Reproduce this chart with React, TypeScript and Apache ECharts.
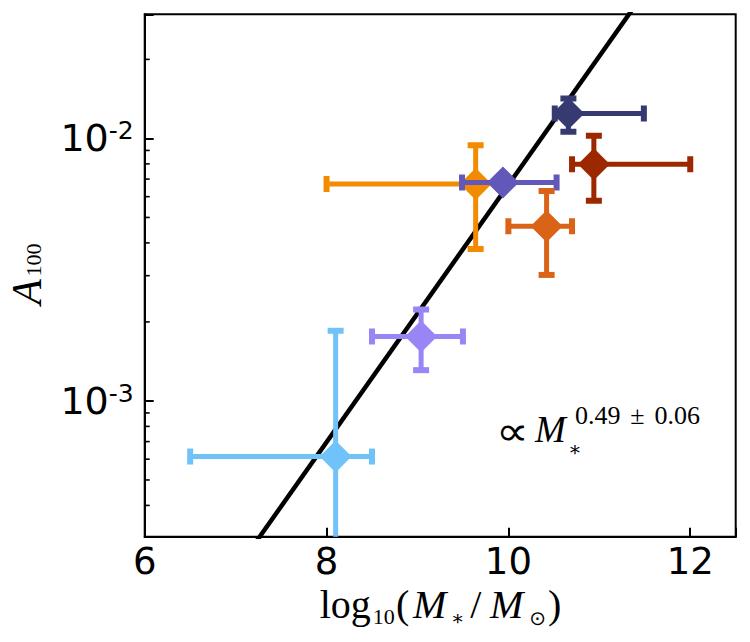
import React, { useEffect, useRef } from "react";
import * as echarts from "echarts";

// ---- data ----
const massX = [8.1, 9.04, 9.64, 9.94, 10.42, 10.66, 10.94];
const massLo = [6.5, 8.5, 8.0, 9.49, 10.0, 10.51, 10.7];
const massHi = [8.5, 9.5, 9.7, 10.53, 10.7, 11.49, 12.0];
const ampY = [6.14e-4, 1.76e-3, 6.7e-3, 6.8e-3, 4.63e-3, 1.245e-2, 7.98e-3];
const ampLo = [1.0e-4, 1.31e-3, 3.79e-3, 6.8e-3, 3.02e-3, 1.06e-2, 5.79e-3];
const ampHi = [1.85e-3, 2.23e-3, 9.42e-3, 6.8e-3, 6.3e-3, 1.42e-2, 1.023e-2];
const pointColors = ["#70c3f8", "#9985f5", "#f38b00", "#6158b9", "#d96418", "#363a70", "#9c2800"];

const fitX = [7.0, 11.6];
const fitY = [2.254e-4, 4.046e-2];

const xMin = 6;
const xMax = 12.5;
const xInterval = 2;
const yMin = 0.000304;
const yMax = 0.0297;
const minorTicksY = [4e-4, 5e-4, 6e-4, 7e-4, 8e-4, 9e-4, 2e-3, 3e-3, 4e-3, 5e-3, 6e-3, 7e-3, 8e-3, 9e-3, 2e-2];

const annotationExponent = ["0.49", "±", "0.06"];

export default function App() {
  const ref = useRef<HTMLDivElement>(null);

  useEffect(() => {
    const chart = echarts.init(ref.current as HTMLDivElement, null, { renderer: "svg" });
    const serif = "'Liberation Serif', 'DejaVu Serif', serif";
    const sans = "'DejaVu Sans', sans-serif";

    const errData = massX.map((x, i) => ({
      value: [x, ampY[i], massLo[i], massHi[i], ampLo[i], ampHi[i]],
      itemStyle: { color: pointColors[i] },
    }));

    const option: any = {
      animation: false,
      backgroundColor: "#fff",
      grid: {
        left: 144.7,
        top: 14.3,
        width: 591,
        height: 522.4,
        show: true,
        borderColor: "#000",
        borderWidth: 2,
        backgroundColor: "transparent",
        containLabel: false,
        outerBoundsMode: "none",
      },
      xAxis: {
        type: "value",
        min: xMin,
        max: xMax,
        interval: xInterval,
        axisLine: { show: true, lineStyle: { color: "#000", width: 2 } },
        axisTick: { show: true, inside: true, length: 9, lineStyle: { color: "#000", width: 2 } },
        splitLine: { show: false },
        axisLabel: {
          margin: 6,
          color: "#000",
          fontFamily: sans,
          fontSize: 37,
          formatter: (v: number) => (Number.isInteger(v) ? String(v) : ""),
        },
        name: "{lg|log}{sb|10}{op|(}{m1|M}{st|∗}{sl|/}{m2|M}{sun|⊙}{cp|)}",
        nameLocation: "middle",
        nameGap: 45,
        nameTextStyle: {
          color: "#000",
          fontFamily: serif,
          fontSize: 40,
          rich: {
            lg: { fontFamily: serif, fontSize: 40, lineHeight: 46, width: 53, color: "#000" },
            sb: { fontFamily: serif, fontSize: 22, lineHeight: 24, width: 24, verticalAlign: "bottom", color: "#000" },
            op: { fontFamily: serif, fontSize: 40, lineHeight: 46, width: 14, color: "#000" },
            m1: { fontFamily: serif, fontSize: 40, fontStyle: "italic", lineHeight: 46, width: 40, align: "center", color: "#000" },
            st: { fontFamily: serif, fontSize: 20, lineHeight: 36, width: 16, align: "center", verticalAlign: "bottom", color: "#000" },
            sl: { fontFamily: serif, fontSize: 40, lineHeight: 46, width: 20, align: "center", color: "#000" },
            m2: { fontFamily: serif, fontSize: 40, fontStyle: "italic", lineHeight: 46, width: 42, align: "center", color: "#000" },
            sun: { fontFamily: sans, fontSize: 20, lineHeight: 18, width: 20, align: "center", verticalAlign: "bottom", color: "#000" },
            cp: { fontFamily: serif, fontSize: 40, lineHeight: 46, width: 14, color: "#000" },
          },
        },
      },
      yAxis: {
        type: "log",
        logBase: 10,
        min: yMin,
        max: yMax,
        axisLine: { show: true, lineStyle: { color: "#000", width: 2 } },
        axisTick: { show: true, inside: true, length: 9, lineStyle: { color: "#000", width: 2 } },
        splitLine: { show: false },
        minorTick: { show: false },
        axisLabel: {
          margin: 11,
          color: "#000",
          fontFamily: sans,
          fontSize: 38,
          formatter: (v: number) => {
            const e = Math.log10(v);
            const r = Math.round(e);
            return Math.abs(e - r) < 1e-6 ? `{b|10}{e|${r}}` : "";
          },
          rich: {
            b: { fontFamily: sans, fontSize: 38, lineHeight: 40, color: "#000" },
            e: { fontFamily: sans, fontSize: 25, lineHeight: 22, verticalAlign: "top", color: "#000" },
          },
        },
        name: "{a|A}{s|100}",
        nameLocation: "middle",
        nameRotate: 90,
        nameGap: 100,
        nameTextStyle: {
          color: "#000",
          fontFamily: serif,
          fontSize: 42,
          rich: {
            a: { fontFamily: serif, fontSize: 42, fontStyle: "italic", lineHeight: 36, width: 31, color: "#000" },
            s: { fontFamily: serif, fontSize: 22, lineHeight: 12, verticalAlign: "bottom", color: "#000" },
          },
        },
      },
      series: [
        {
          type: "line",
          data: fitX.map((x, i) => [x, fitY[i]]),
          symbol: "none",
          showSymbol: false,
          clip: true,
          lineStyle: { color: "#000", width: 4.5 },
          z: 2,
          silent: true,
        },
        {
          type: "custom",
          clip: true,
          z: 3,
          silent: true,
          encode: { x: 0, y: 1 },
          data: errData,
          renderItem: (params: any, api: any) => {
            const x = api.value(0);
            const y = api.value(1);
            const c = api.coord([x, y]);
            const pl = api.coord([api.value(2), y]);
            const pr = api.coord([api.value(3), y]);
            const pb = api.coord([x, api.value(4)]);
            const pt = api.coord([x, api.value(5)]);
            const color = api.visual("color");
            const bw = 5;
            const capLen = 16;
            const capW = 6;
            const d = 16;
            const style = { fill: color };
            return {
              type: "group",
              children: [
                { type: "rect", shape: { x: pl[0], y: c[1] - bw / 2, width: pr[0] - pl[0], height: bw }, style },
                { type: "rect", shape: { x: c[0] - bw / 2, y: pt[1], width: bw, height: pb[1] - pt[1] }, style },
                { type: "rect", shape: { x: pl[0] - capW / 2, y: c[1] - capLen / 2, width: capW, height: capLen }, style },
                { type: "rect", shape: { x: pr[0] - capW / 2, y: c[1] - capLen / 2, width: capW, height: capLen }, style },
                { type: "rect", shape: { x: c[0] - capLen / 2, y: pt[1] - capW / 2, width: capLen, height: capW }, style },
                { type: "rect", shape: { x: c[0] - capLen / 2, y: pb[1] - capW / 2, width: capLen, height: capW }, style },
                {
                  type: "polygon",
                  shape: { points: [[c[0], c[1] - d], [c[0] + d, c[1]], [c[0], c[1] + d], [c[0] - d, c[1]]] },
                  style,
                },
              ],
            };
          },
        },
        {
          type: "custom",
          clip: false,
          z: 5,
          silent: true,
          encode: { x: 0, y: 1 },
          data: minorTicksY.map((v) => [xMin, v]),
          renderItem: (params: any, api: any) => {
            const p = api.coord([xMin, api.value(1)]);
            return {
              type: "line",
              shape: { x1: p[0], y1: p[1], x2: p[0] + 5, y2: p[1] },
              style: { stroke: "#000", lineWidth: 1.6 },
            };
          },
        },
      ],
      graphic: [
        {
          type: "text",
          x: 496,
          y: 431,
          scaleX: 1.15,
          silent: true,
          style: {
            text: "∝",
            fontFamily: sans,
            fontSize: 40,
            align: "left",
            verticalAlign: "middle",
            fill: "#000",
          },
        },
        {
          type: "text",
          x: 535,
          y: 429.5,
          silent: true,
          style: {
            text: "M",
            fontFamily: serif,
            fontStyle: "italic",
            fontSize: 37,
            align: "left",
            verticalAlign: "middle",
            fill: "#000",
          },
        },
        {
          type: "text",
          x: 575,
          y: 415,
          silent: true,
          style: {
            text: `{d|${annotationExponent[0]}}{pm|${annotationExponent[1]}}{d|${annotationExponent[2]}}`,
            align: "left",
            verticalAlign: "middle",
            rich: {
              d: { fontFamily: serif, fontSize: 26, lineHeight: 28, fill: "#000" },
              pm: { fontFamily: serif, fontSize: 26, lineHeight: 28, width: 34, align: "center", fill: "#000" },
            },
          },
        },
        {
          type: "text",
          x: 575,
          y: 449,
          silent: true,
          style: {
            text: "∗",
            fontFamily: serif,
            fontSize: 20,
            align: "center",
            verticalAlign: "middle",
            fill: "#000",
          },
        },
      ],
    };

    chart.setOption(option);
    return () => chart.dispose();
  }, []);

  return <div ref={ref} style={{ width: 750, height: 642, margin: -8 }} />;
}
